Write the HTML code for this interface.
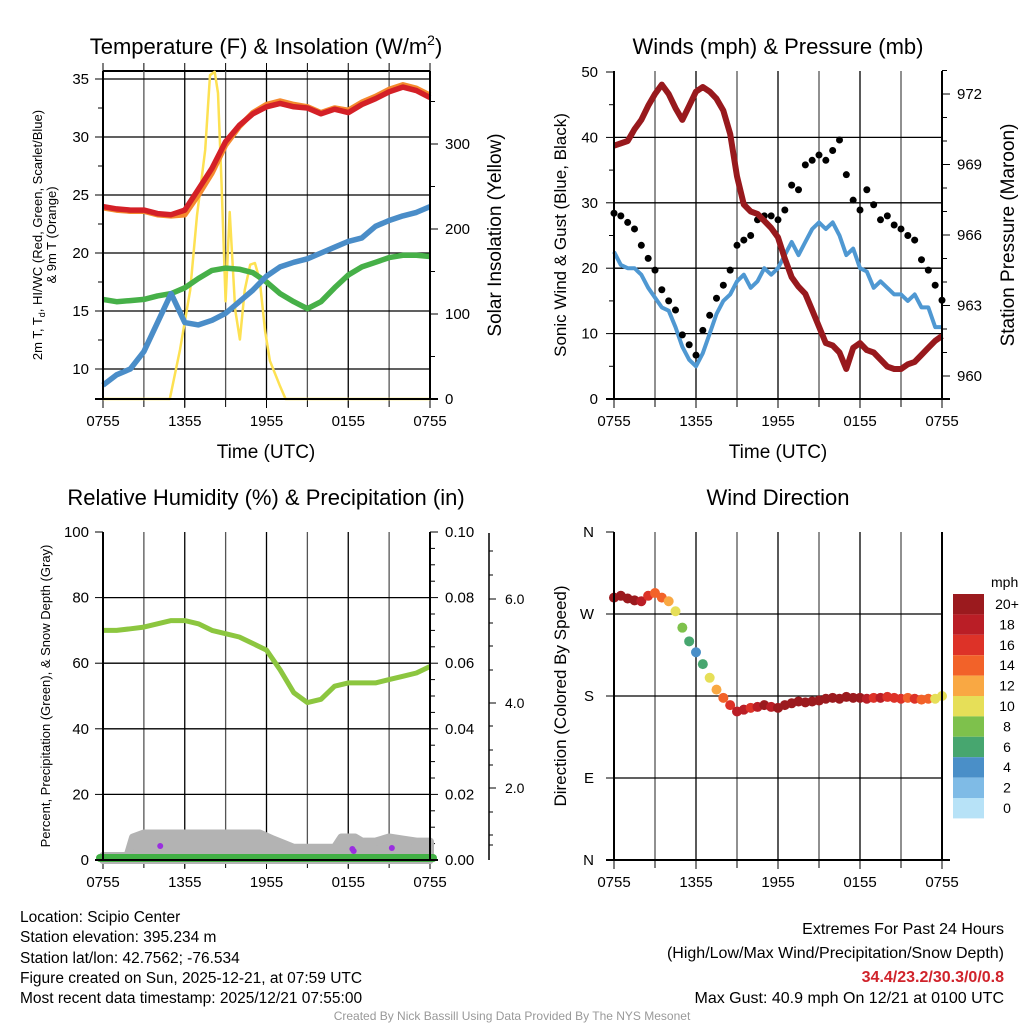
<!DOCTYPE html>
<html><head><meta charset="utf-8">
<style>
html,body{margin:0;padding:0;background:#fff;}
svg{display:block;font-family:"Liberation Sans",Arial,sans-serif;}
</style></head>
<body>
<svg id="fig" width="1024" height="1024" viewBox="0 0 1024 1024" xmlns="http://www.w3.org/2000/svg">
<rect x="0" y="0" width="1024" height="1024" fill="#fff"/>
<g id="p1"></g>
<g id="p2"></g>
<g id="p3"></g>
<g id="p4"></g>

<text x="266" y="54" font-size="22" text-anchor="middle">Temperature (F) &amp; Insolation (W/m<tspan dy="-9" font-size="14">2</tspan><tspan dy="9">)</tspan></text>
<text x="778" y="54" font-size="22" text-anchor="middle">Winds (mph) &amp; Pressure (mb)</text>
<text x="266" y="505" font-size="22" text-anchor="middle">Relative Humidity (%) &amp; Precipitation (in)</text>
<text x="778" y="505" font-size="22" text-anchor="middle">Wind Direction</text>

<text x="266" y="458" font-size="19" text-anchor="middle">Time (UTC)</text>
<text x="778" y="458" font-size="19" text-anchor="middle">Time (UTC)</text>

<text transform="translate(42,235) rotate(-90)" font-size="13" text-anchor="middle">2m T, T<tspan font-size="9" dy="3">d</tspan><tspan dy="-3">, HI/WC (Red, Green, Scarlet/Blue)</tspan></text>
<text transform="translate(56,235) rotate(-90)" font-size="13" text-anchor="middle">&amp; 9m T (Orange)</text>
<text transform="translate(501,235) rotate(-90)" font-size="19" text-anchor="middle">Solar Insolation (Yellow)</text>
<text transform="translate(566,235) rotate(-90)" font-size="17" text-anchor="middle">Sonic Wind &amp; Gust (Blue, Black)</text>
<text transform="translate(1014,235) rotate(-90)" font-size="19" text-anchor="middle">Station Pressure (Maroon)</text>
<text transform="translate(50,696) rotate(-90)" font-size="13" text-anchor="middle">Percent, Precipitation (Green), &amp; Snow Depth (Gray)</text>
<text transform="translate(566,696) rotate(-90)" font-size="17" text-anchor="middle">Direction (Colored By Speed)</text>

<g font-size="15.5">
<text x="20" y="922">Location: Scipio Center</text>
<text x="20" y="942">Station elevation: 395.234 m</text>
<text x="20" y="963">Station lat/lon: 42.7562; -76.534</text>
<text x="20" y="983">Figure created on Sun, 2025-12-21, at 07:59 UTC</text>
<text x="20" y="1003">Most recent data timestamp: 2025/12/21 07:55:00</text>
</g>
<g font-size="16" text-anchor="end">
<text x="1004" y="934">Extremes For Past 24 Hours</text>
<text x="1004" y="958">(High/Low/Max Wind/Precipitation/Snow Depth)</text>
<text x="1004" y="982" fill="#d0232b" font-weight="bold">34.4/23.2/30.3/0/0.8</text>
<text x="1004" y="1003">Max Gust: 40.9 mph On 12/21 at 0100 UTC</text>
</g>
<text x="512" y="1020" font-size="12" fill="#999" text-anchor="middle">Created By Nick Bassill Using Data Provided By The NYS Mesonet</text>
</svg>
<script>
// ---- data (hours since 0755 UTC) ----
const xTickLabels = ["0755","1355","1955","0155","0755"];
const hourly = [0,1,2,3,4,5,6,7,8,9,10,11,12,13,14,15,16,17,18,19,20,21,22,23,24];
const tempRed = [24,23.8,23.7,23.7,23.4,23.3,23.7,25.5,27.3,29.6,31,32,32.6,32.9,32.6,32.5,32,32.4,32.1,32.8,33.3,33.9,34.3,34,33.4];
const temp9m = [23.9,23.7,23.6,23.6,23.3,23.2,23.3,25.0,26.9,29.3,30.9,32.1,32.8,33.1,32.8,32.6,32.1,32.5,32.3,33.0,33.5,34.1,34.5,34.2,33.6];
const dewGreen = [16,15.8,15.9,16,16.3,16.5,17,17.8,18.5,18.7,18.6,18.3,17.5,16.5,15.8,15.2,15.8,17,18.1,18.8,19.2,19.6,19.8,19.8,19.7];
const wcBlue = [8.6,9.5,10,11.5,14,16.5,14,13.8,14.2,14.8,15.8,16.8,18,18.8,19.2,19.5,20,20.5,21,21.3,22.3,22.8,23.2,23.5,24];
const solarHours = [0,4.9,5.65,6.4,6.9,7.5,7.85,8.2,8.44,8.7,9.0,9.3,9.7,10.05,10.4,10.8,11.15,11.5,11.9,12.25,13,13.4,24];
const solarVals = [0,0,58,128,216,293,381,385,360,255,115,220,105,70,128,158,160,140,80,45,15,0,0];

const halfHours = [];
for (let i = 0; i <= 48; i++) halfHours.push(i/2);
const windSpeed = [22.5,20.5,20,20,19,17,15.5,14,13.5,11,8,6,5,7,10,13,15,16,18,19,17,18,20,19,20,22,24,22,24,26,27,26,27,25,22,23,20,19.5,17,18,17,16,16,15,16,14,14,11,11];
const windGust = [28.4,28,27,26,23.5,21.5,19.7,16.7,15,13.6,9.8,8.3,6.7,10.5,12.8,15.4,17.4,19.7,23.5,24.3,25,27.4,28,28,27.4,28.9,32.7,32,35.8,36.5,37.3,36.5,38,39.6,34.3,30.4,28.9,32,29.7,27.4,28,26.6,26,25,24.3,21.3,19.7,17.4,15.1];
const pressure = [969.8,969.9,970.0,970.5,970.9,971.5,972.0,972.4,972.0,971.4,970.9,971.5,972.1,972.3,972.1,971.8,971.3,970.3,968.5,967.3,967.0,966.9,966.6,966.3,965.9,965.0,964.2,963.8,963.5,962.8,962.1,961.4,961.3,961.0,960.3,961.2,961.4,961.1,961.0,960.7,960.4,960.3,960.3,960.5,960.6,960.9,961.2,961.5,961.7];
const rh = [70,70,70.5,71,72,73,73,72,70,69,68,66,64,58,51,48,49,53,54,54,54,55,56,57,59];
const windDir = [288,290,287,285,284,290,293,288,284,273,255,240,228,215,200,187,178,170,163,165,167,168,170,168,167,170,172,174,173,174,175,177,178,177,179,178,178,177,178,178,179,178,177,178,177,176,177,177,180];
const snowHours = [0,1.8,2.2,3,6,9,11.5,12.5,14,15,17,17.5,18.5,19,20,21,22,23,24];
const snowDepth = [0,0,0.45,0.55,0.55,0.55,0.55,0.4,0.2,0.2,0.2,0.45,0.45,0.35,0.35,0.45,0.4,0.35,0.35];
const colorLabels = ["20+","18","16","14","12","10","8","6","4","2","0"];
const colorBins = ["#9b1a1e","#ba1e26","#dd3228","#f26229","#f9a843","#e6df58","#7ec14c","#47a66f","#4a8fc8","#7fbbe6","#b7e2f7"];

const NS = "http://www.w3.org/2000/svg";
function mk(parent, tag, attrs){ const e=document.createElementNS(NS,tag); for(const k in attrs) e.setAttribute(k,attrs[k]); parent.appendChild(e); return e; }
function lineFn(xs, ys, xf, yf){ return xs.map((x,i)=>(i?"L":"M")+xf(x).toFixed(1)+","+yf(ys[i]).toFixed(1)).join(""); }

function frame(g, L, R, T, B){
  for (let h=3; h<24; h+=3){
    const x = L + (R-L)*h/24;
    const ln = mk(g,"line",{x1:x,y1:T,x2:x,y2:B,stroke:(h%6===0?"#000":"#555"),"stroke-width":1.3});
    
    
    mk(g,"line",{x1:x,y1:B,x2:x,y2:B+8,stroke:"#000","stroke-width":1});
  }
  xTickLabels.forEach((lab,i)=>{
    const x = L + (R-L)*i/4;
    mk(g,"line",{x1:x,y1:B,x2:x,y2:B+9,stroke:"#000","stroke-width":1});
    const t = mk(g,"text",{x:x,y:B+27,"font-size":15,"text-anchor":"middle"});
    t.textContent = lab;
    
    
  });
}
function box(g,L,R,T,B){
  mk(g,"line",{x1:L-8,y1:B,x2:R+8,y2:B,stroke:"#000","stroke-width":2});
  mk(g,"line",{x1:L,y1:T,x2:L,y2:B,stroke:"#000","stroke-width":2});
  mk(g,"line",{x1:R,y1:T,x2:R,y2:B,stroke:"#000","stroke-width":2});
}
function hgrid(g,L,R,y,lw){ mk(g,"line",{x1:L,y1:y,x2:R,y2:y,stroke:"#000","stroke-width":lw||1.3}); }
function tickLabel(g,x,y,s,anchor,size){
  const t = mk(g,"text",{x:x,y:y+5,"font-size":size||15,"text-anchor":anchor});
  t.textContent = s;
  
  
}

// ---------- Panel 1 ----------
(function(){
  const g = document.getElementById("p1");
  const L=103,R=430,T=71,B=399;
  const xs = h => L + (R-L)*h/24;
  const yT = v => 369 - (v-10)*11.6;
  const yS = v => 399 - v*0.85;
  for (let h=0; h<=24; h+=3){ const x=xs(h); mk(g,"line",{x1:x,y1:T-8,x2:x,y2:T,stroke:"#000","stroke-width":1}); }
  mk(g,"line",{x1:L,y1:T,x2:R,y2:T,stroke:"#000","stroke-width":2});
  frame(g,L,R,T,B);
  [10,15,20,25,30,35].forEach(v=>{ const y=yT(v); hgrid(g,L,R,y); mk(g,"line",{x1:L-8,y1:y,x2:L,y2:y,stroke:"#000"}); tickLabel(g,L-14,y,String(v),"end"); });
  [12.5,17.5,22.5,27.5,32.5].forEach(v=>{ const y=yT(v); mk(g,"line",{x1:L-5,y1:y,x2:L,y2:y,stroke:"#000"}); });
  [0,100,200,300].forEach(v=>{ const y=yS(v); mk(g,"line",{x1:R,y1:y,x2:R+8,y2:y,stroke:"#000"}); tickLabel(g,R+15,y,String(v),"start"); });
  [50,150,250,350].forEach(v=>{ const y=yS(v); mk(g,"line",{x1:R,y1:y,x2:R+5,y2:y,stroke:"#000"}); });
  let p;
  p = mk(g,"path",{d:lineFn(solarHours,solarVals,xs,yS),fill:"none",stroke:"#fde152","stroke-width":2.5,"stroke-linejoin":"round"});
   
  p = mk(g,"path",{d:lineFn(hourly,dewGreen,xs,yT),fill:"none",stroke:"#46b048","stroke-width":5.5,"stroke-linejoin":"round"});
   
  p = mk(g,"path",{d:lineFn(hourly,wcBlue,xs,yT),fill:"none",stroke:"#4a8dc8","stroke-width":5.5,"stroke-linejoin":"round"});
   
  p = mk(g,"path",{d:lineFn(hourly,temp9m,xs,yT),fill:"none",stroke:"#f58a2e","stroke-width":5.5,"stroke-linejoin":"round"});
   
  p = mk(g,"path",{d:lineFn(hourly,tempRed,xs,yT),fill:"none",stroke:"#d42027","stroke-width":5.5,"stroke-linejoin":"round"});
   
  box(g,L,R,T,B);
})();

// ---------- Panel 2 ----------
(function(){
  const g = document.getElementById("p2");
  const L=614,R=942,T=71,B=399;
  const xs = h => L + (R-L)*h/24;
  const yW = v => 399 - v*6.54;
  const yP = v => 376 - (v-960)*23.5;
  frame(g,L,R,T,B);
  [0,10,20,30,40,50].forEach(v=>{ const y=yW(v); if(v>0&&v<50) hgrid(g,L,R,y); mk(g,"line",{x1:L-8,y1:y,x2:L,y2:y,stroke:"#000"}); tickLabel(g,L-16,y,String(v),"end"); });
  [5,15,25,35,45].forEach(v=>{ const y=yW(v); mk(g,"line",{x1:L-5,y1:y,x2:L,y2:y,stroke:"#000"}); });
  [960,963,966,969,972].forEach(v=>{ const y=yP(v); mk(g,"line",{x1:R,y1:y,x2:R+8,y2:y,stroke:"#000"}); tickLabel(g,R+15,y,String(v),"start"); });
  for (let v=959; v<=973; v++){ if(v%3){ const y=yP(v); mk(g,"line",{x1:R,y1:y,x2:R+5,y2:y,stroke:"#000"}); } }
  let p = mk(g,"path",{d:lineFn(halfHours,windSpeed,xs,yW),fill:"none",stroke:"#4f98d2","stroke-width":4,"stroke-linejoin":"round"});
   
  windGust.forEach((v,i)=>{
    const c = mk(g,"circle",{cx:xs(halfHours[i]),cy:yW(v),r:3.5,fill:"#000"});
    
    
  });
  p = mk(g,"path",{d:lineFn(halfHours,pressure,xs,yP),fill:"none",stroke:"#98191d","stroke-width":6,"stroke-linejoin":"round"});
   
  box(g,L,R,T,B);
})();

// ---------- Panel 3 ----------
(function(){
  const g = document.getElementById("p3");
  const L=103,R=430,T=532,B=860;
  const xs = h => L + (R-L)*h/24;
  const yR = v => 860 - v*3.28;
  const yS = v => 860 - v*41;
  frame(g,L,R,T,B);
  [0,20,40,60,80,100].forEach(v=>{ const y=yR(v); if(v>0&&v<100) hgrid(g,L,R,y); mk(g,"line",{x1:L-8,y1:y,x2:L,y2:y,stroke:"#000"}); tickLabel(g,L-14,y,String(v),"end"); });
  ["0.00","0.02","0.04","0.06","0.08","0.10"].forEach((s,i)=>{ const y=yR(i*20); mk(g,"line",{x1:R,y1:y,x2:R+8,y2:y,stroke:"#000"}); tickLabel(g,R+15,y,s,"start"); });
  for (let v=5; v<100; v+=5){ if(v%20){ const y=yR(v); mk(g,"line",{x1:R,y1:y,x2:R+5,y2:y,stroke:"#000"}); } }
  mk(g,"line",{x1:489,y1:533,x2:489,y2:860,stroke:"#000","stroke-width":1.5});
  [[599,"6.0"],[703,"4.0"],[788,"2.0"]].forEach(a=>{ mk(g,"line",{x1:489,y1:a[0],x2:496,y2:a[0],stroke:"#000"}); tickLabel(g,505,a[0],a[1],"start",14); });
  [551,575,623,646,670,726,750,765,812,835,845].forEach(y=>mk(g,"line",{x1:489,y1:y,x2:493,y2:y,stroke:"#000"}));
  const d = snowHours.map((h,i)=>(i?"L":"M")+xs(h).toFixed(1)+","+(yS(snowDepth[i])-4).toFixed(1)).join("") + "L"+xs(24)+","+B+"L"+xs(0)+","+B+"Z";
  let p = mk(g,"path",{d:d,fill:"#b3b3b3",stroke:"#b3b3b3","stroke-width":8,"stroke-linejoin":"round"});
   
  [[4.2,846],[18.3,849],[18.4,851],[21.2,848]].forEach(a=>{ const c=mk(g,"circle",{cx:xs(a[0]),cy:a[1],r:3,fill:"#9a2ee0"});   });
  p = mk(g,"line",{x1:xs(0)-3,y1:858,x2:xs(24)+3,y2:858,stroke:"#42b045","stroke-width":8,"stroke-linecap":"round"});
   
  p = mk(g,"path",{d:lineFn(hourly,rh,xs,yR),fill:"none",stroke:"#8cc63f","stroke-width":5,"stroke-linejoin":"round"});
   
  box(g,L,R,T,B);
})();

// ---------- Panel 4 ----------
(function(){
  const g = document.getElementById("p4");
  const L=614,R=942,T=532,B=860;
  const xs = h => L + (R-L)*h/24;
  const yD = v => 860 - v/360*328;
  frame(g,L,R,T,B);
  ["N","E","S","W","N"].forEach((s,i)=>{ const y=yD(i*90); if(i>0&&i<4) hgrid(g,L,R,y); mk(g,"line",{x1:L-8,y1:y,x2:L,y2:y,stroke:"#000"}); tickLabel(g,L-20,y,s,"end"); });
  function colorFor(w){ let idx = Math.floor(w/2); if(idx>10) idx=10; return colorBins[10-idx]; }
  windDir.forEach((v,i)=>{
    const c = mk(g,"circle",{cx:xs(halfHours[i]),cy:yD(v),r:5,fill:colorFor(windSpeed[i])});
    
    
  });
  box(g,L,R,T,B);
  const t0 = mk(g,"text",{x:991,y:587,"font-size":14}); t0.textContent="mph";
   
  colorBins.forEach((c,i)=>{
    const y = 594 + i*20.4;
    const r = mk(g,"rect",{x:953,y:y,width:31,height:20.4,fill:c});
     
    const t = mk(g,"text",{x:1007,y:y+15,"font-size":14,"text-anchor":"middle"});
    t.textContent = colorLabels[i];
     
  });
})();
</script>
</body></html>
